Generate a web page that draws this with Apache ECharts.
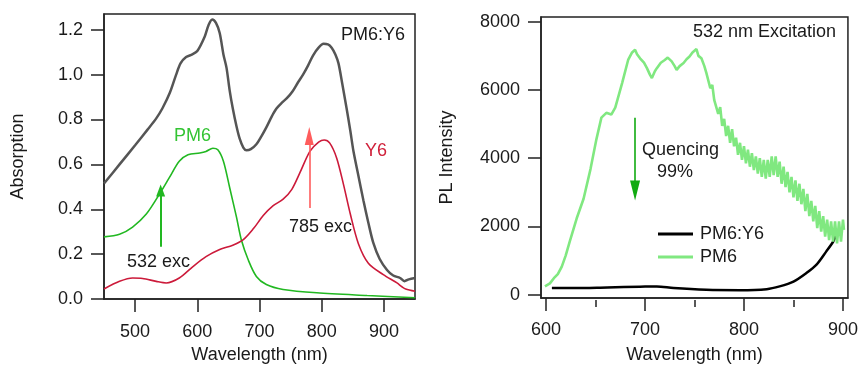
<!DOCTYPE html>
<html>
<head>
<meta charset="utf-8">
<script src="https://cdn.jsdelivr.net/npm/echarts@6/dist/echarts.min.js"></script>
<style>
html,body{margin:0;padding:0;background:#fff;}
#chart{width:861px;height:369px;}
</style>
</head>
<body>
<div id="chart"></div>
<script>
// ---- Left panel: absorption ----
var blendAbsWl = [450,475,500,520,534,544,556,566,573,582,592,600,612,618,624,630,636,642,647,652,657,663,668,674,679,686,695,703,711,720,727,736,744,753,762,770,778,786,795,803,810,816,822,827,833,840,846,851,859,867,875,883,893,905,915,926,933,940,950];
var blendAbsVal = [0.515,0.6,0.685,0.755,0.805,0.85,0.92,1.0,1.05,1.078,1.09,1.105,1.17,1.22,1.245,1.23,1.185,1.09,1.03,0.93,0.85,0.77,0.716,0.675,0.663,0.668,0.69,0.725,0.765,0.815,0.848,0.875,0.895,0.925,0.966,1.0,1.04,1.085,1.12,1.137,1.135,1.12,1.09,1.05,0.96,0.85,0.75,0.66,0.55,0.44,0.34,0.25,0.18,0.13,0.105,0.094,0.08,0.088,0.094];

var pm6AbsWl = [450,475,496,518,539,555,571,585,604,614,625,633,642,652,663,671,682,695,711,738,792,873,950];
var pm6AbsVal = [0.277,0.289,0.321,0.379,0.467,0.541,0.614,0.643,0.651,0.658,0.672,0.665,0.614,0.497,0.365,0.262,0.174,0.101,0.065,0.043,0.028,0.016,0.006];

var y6AbsWl = [450,475,496,512,534,550,571,593,614,636,657,674,690,706,722,738,752,765,781,795,804,813,824,835,846,859,875,899,921,929,935,950];
var y6AbsVal = [0.045,0.079,0.094,0.092,0.079,0.072,0.094,0.145,0.189,0.221,0.24,0.265,0.313,0.372,0.416,0.445,0.489,0.563,0.658,0.699,0.709,0.695,0.629,0.511,0.379,0.247,0.16,0.109,0.072,0.055,0.045,0.035];

var absXTicks = [500,600,700,800,900];
var absYTicks = [0,0.2,0.4,0.6,0.8,1.0,1.2];

// ---- Right panel: PL ----
var pm6PlWl = [599,604,608,612,616,620,624,631,638,645,651,656,661,666,670,677,683,687,690,692,695,699,702,705,707,710,712,716,720,723,727,730,732,735,739,742,745,748,750,752,754,757,760,762,
  764,766,768,770,772,774,776,778,780,782,784,786,788,790,792,794,796,798,800,802,804,806,808,810,812,814,816,818,820,822,824,826,828,830,832,834,836,838,840,842,844,846,848,850,852,854,856,858,860,862,864,866,868,870,872,874,876,878,880,882,884,886,888,890,892,894,896,898,900,901];
var pm6PlVal = [240,330,480,600,820,1150,1550,2230,2810,3680,4560,5190,5330,5280,5480,6210,6880,7100,7180,7050,6930,6800,6640,6450,6350,6550,6640,6800,6880,6950,6840,6700,6590,6700,6790,6900,6980,7100,7050,7200,7000,6930,6700,6500,
  6450,6050,6150,5700,5750,5300,5500,4950,5150,4650,4950,4450,4850,4350,4600,4100,4450,3950,4350,3850,4250,3750,4150,3650,4050,3550,4000,3450,3950,3400,3950,3450,4050,3500,4050,3450,3900,3250,3750,3150,3600,3000,3450,2850,3350,2750,3250,2650,3100,2450,2950,2300,2750,2150,2600,1950,2450,1850,2300,1700,2200,1600,2150,1550,2150,1500,2150,1550,2200,1900];

var blendPlWl = [606,628,662,695,712,729,762,796,823,836,850,863,873,883,890,893];
var blendPlVal = [190,190,210,230,240,190,140,130,160,240,380,630,870,1260,1550,1740];

var plXTicks = [600,700,800,900];
var plXMinor = [650,750,850];
var plYTicks = [0,2000,4000,6000,8000];

function pairs(xs, ys){ return xs.map(function(x,i){ return [x, ys[i]]; }); }

var FONT = '"Liberation Sans", Arial, sans-serif';
var AX = '#222';
var TXT = '#1a1a1a';

function axisCommon(){
  return {
    axisLine:{show:true, onZero:false, lineStyle:{color:AX, width:1.5}},
    axisTick:{show:true, inside:false, length:13, lineStyle:{color:AX, width:1.5}},
    splitLine:{show:false},
    axisLabel:{color:TXT, fontSize:18, fontFamily:FONT},
    nameTextStyle:{color:TXT, fontSize:18, fontFamily:FONT}
  };
}

function mk(base, extra){
  var o = JSON.parse(JSON.stringify(base));
  for (var k in extra){
    if (typeof extra[k]==='object' && !Array.isArray(extra[k]) && o[k]) { for (var j in extra[k]) o[k][j]=extra[k][j]; }
    else o[k]=extra[k];
  }
  return o;
}

var xAbs = mk(axisCommon(), {type:'value', gridIndex:0, position:'bottom', min:450, max:950, name:'Wavelength (nm)', nameLocation:'middle', nameGap:46});
xAbs.axisTick.customValues = absXTicks; xAbs.axisLabel.customValues = absXTicks; xAbs.axisLabel.margin = 24;

var yAbs = mk(axisCommon(), {type:'value', gridIndex:0, min:0, max:1.27, name:'Absorption', nameLocation:'middle', nameGap:77});
yAbs.axisTick.customValues = absYTicks; yAbs.axisLabel.customValues = absYTicks; yAbs.axisLabel.margin = 21;
yAbs.axisLabel.formatter = function(v){ return v.toFixed(1); };

var xPl = mk(axisCommon(), {type:'value', gridIndex:1, position:'bottom', min:595, max:905, name:'Wavelength (nm)', nameLocation:'middle', nameGap:48});
xPl.axisTick.customValues = plXTicks; xPl.axisLabel.customValues = plXTicks; xPl.axisLabel.margin = 23;

// minor ticks: a second (top) axis shifted onto the bottom edge, ticks pointing outward (down)
var xPlMinor = {type:'value', gridIndex:1, position:'top', offset:-283, min:595, max:905,
  axisLine:{show:false, onZero:false},
  axisTick:{show:true, inside:true, length:7, interval:0, customValues:plXMinor, lineStyle:{color:AX, width:1.5}},
  axisLabel:{show:false}, splitLine:{show:false}};

var yPl = mk(axisCommon(), {type:'value', gridIndex:1, min:-100, max:8140, name:'PL Intensity', nameLocation:'middle', nameGap:85});
yPl.axisTick.customValues = plYTicks; yPl.axisLabel.customValues = plYTicks; yPl.axisLabel.margin = 21;
yPl.axisLabel.formatter = function(v){ return String(v); };

var chart = echarts.init(document.getElementById('chart'), null, {renderer:'canvas'});

function txt(x, y, s, color){
  return {type:'text', silent:true, style:{x:x, y:y, text:s, fill:color||TXT, font:'18px ' + FONT, textAlign:'left', textVerticalAlign:'middle'}};
}

var option = {
  animation:false,
  backgroundColor:'#fff',
  grid:[
    {left:104, top:14, width:311, height:289, show:true, borderColor:AX, borderWidth:1.5, containLabel:false},
    {left:541, top:17, width:307, height:283, show:true, borderColor:AX, borderWidth:1.5, containLabel:false}
  ],
  xAxis:[xAbs, xPl, xPlMinor],
  yAxis:[yAbs, yPl],
  legend:{
    left:653, top:220, orient:'vertical', itemWidth:35, itemHeight:3, itemGap:5, icon:'rect',
    data:['PM6:Y6','PM6'], selectedMode:false,
    textStyle:{color:TXT, fontSize:18, fontFamily:FONT, padding:[0,0,0,2]}
  },
  series:[
    {name:'PM6:Y6 abs', type:'line', xAxisIndex:0, yAxisIndex:0, data:pairs(blendAbsWl, blendAbsVal), smooth:0.3, showSymbol:false,
      lineStyle:{color:'#555555', width:2.5}},
    {name:'PM6 abs', type:'line', xAxisIndex:0, yAxisIndex:0, data:pairs(pm6AbsWl, pm6AbsVal), smooth:0.3, showSymbol:false,
      lineStyle:{color:'#22b822', width:1.6},
      markLine:{silent:true, symbol:['none','triangle'], symbolSize:[9,12], label:{show:false},
        lineStyle:{color:'#22b822', width:2, type:'solid'},
        data:[[{coord:[541,0.233]},{coord:[541,0.484]}]]}},
    {name:'Y6 abs', type:'line', xAxisIndex:0, yAxisIndex:0, data:pairs(y6AbsWl, y6AbsVal), smooth:0.3, showSymbol:false,
      lineStyle:{color:'#cc1a3a', width:1.6},
      markLine:{silent:true, symbol:['none','triangle'], symbolSize:[9,18], label:{show:false},
        lineStyle:{color:'#ff5c5c', width:1.6, type:'solid'},
        data:[[{coord:[780,0.406]},{coord:[780,0.727]}]]}},
    {name:'PM6:Y6', type:'line', xAxisIndex:1, yAxisIndex:1, data:pairs(blendPlWl, blendPlVal), smooth:0.3, showSymbol:false,
      itemStyle:{color:'#000'}, lineStyle:{color:'#000', width:2.5}},
    {name:'PM6', type:'line', xAxisIndex:1, yAxisIndex:1, data:pairs(pm6PlWl, pm6PlVal), smooth:false, showSymbol:false,
      itemStyle:{color:'#80e880'}, lineStyle:{color:'#80e880', width:2.6},
      markLine:{silent:true, symbol:['none','triangle'], symbolSize:[10,20], label:{show:false},
        lineStyle:{color:'#11aa11', width:1.6, type:'solid'},
        data:[[{coord:[690,5188]},{coord:[690,3051]}]]}}
  ],
  graphic:[
    txt(341, 35, 'PM6:Y6'),
    txt(174, 136, 'PM6', '#33c433'),
    txt(365, 151, 'Y6', '#d0203a'),
    txt(127, 262, '532 exc'),
    txt(289, 227, '785 exc'),
    txt(693, 32, '532 nm Excitation'),
    txt(642, 150, 'Quencing'),
    txt(657, 172, '99%')
  ]
};
chart.setOption(option);
</script>
</body>
</html>
